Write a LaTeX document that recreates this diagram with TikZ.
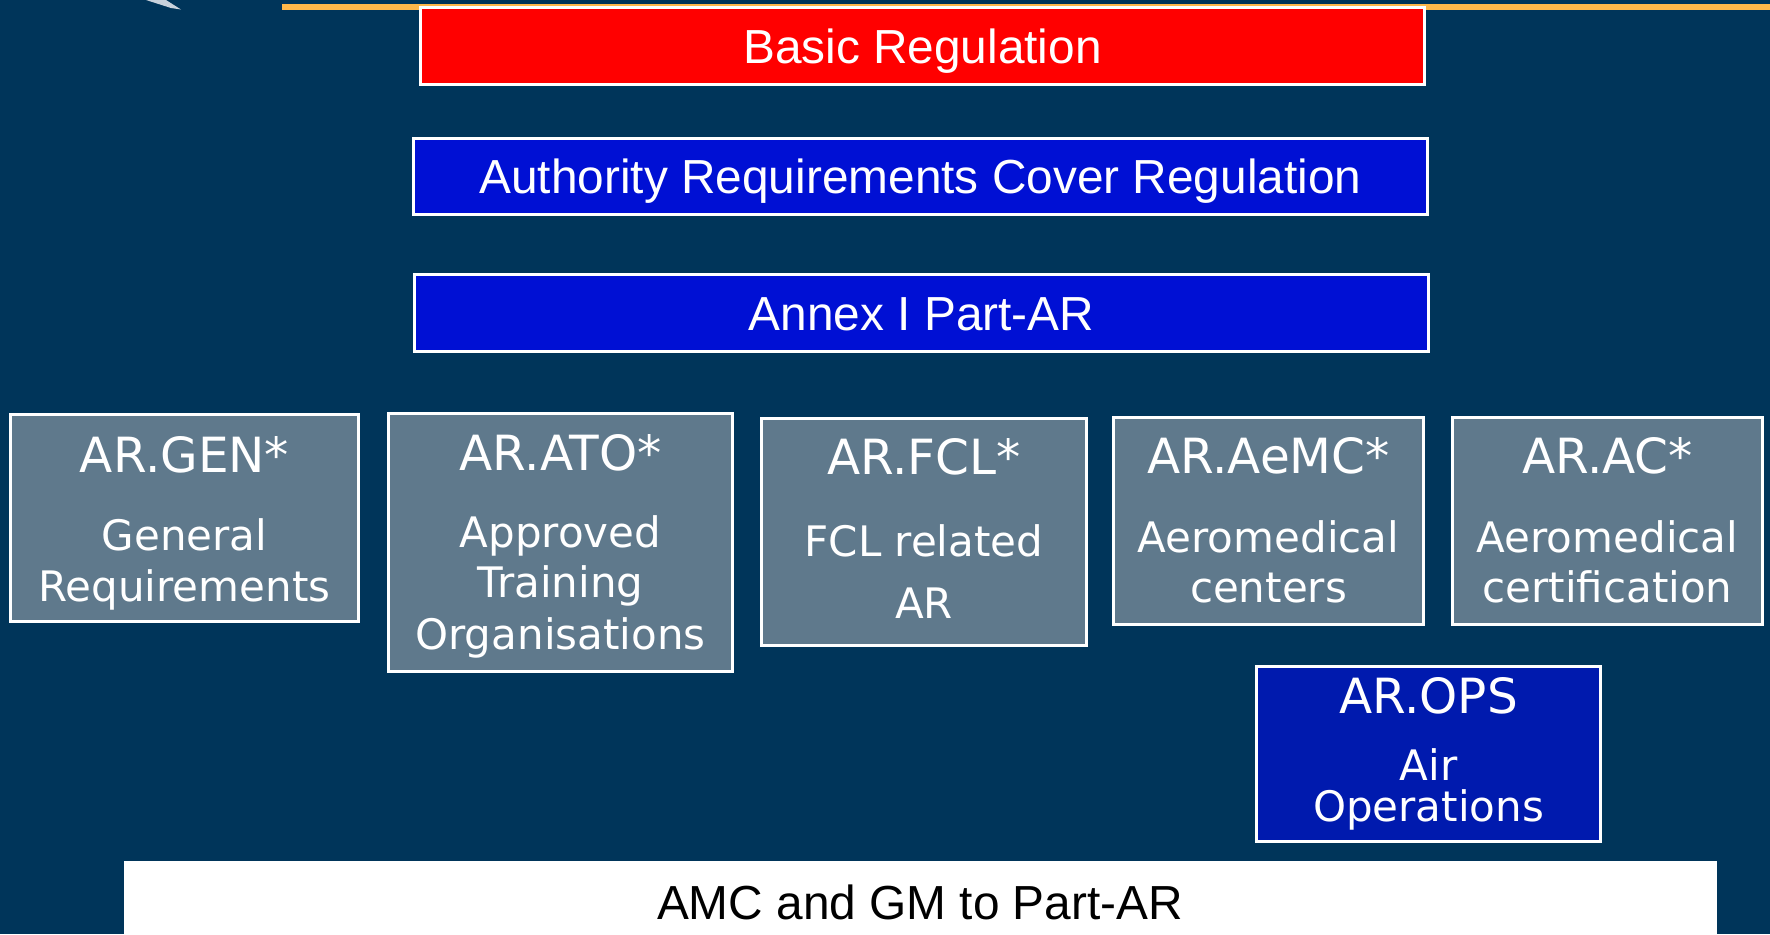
\documentclass[tikz,border=0pt]{standalone}
\usepackage{fontspec}
\setmainfont{Liberation Sans}
\newfontfamily\verd{DejaVu Sans}
\usetikzlibrary{fit}
\definecolor{bg}{HTML}{00355A}
\definecolor{ylw}{HTML}{FFB84A}
\definecolor{logo}{HTML}{C9D2DC}
\definecolor{redbox}{HTML}{FF0000}
\definecolor{bluebox}{HTML}{0010D4}
\definecolor{opsblue}{HTML}{001AAE}
\definecolor{greybox}{HTML}{5F798C}
\tikzset{
  box/.style={draw=white, line width=0.3mm, inner sep=0pt},
  greyb/.style={box, fill=greybox},
  big/.style={anchor=base, inner sep=0pt, font=\fontsize{13.6}{16}\selectfont},
  ttl/.style={anchor=base, inner sep=0pt, text=white, font=\verd\fontsize{13.8}{16}\selectfont},
  sub/.style={anchor=base, inner sep=0pt, text=white, font=\verd\fontsize{11.95}{14}\selectfont}
}
\begin{document}
\begin{tikzpicture}[x=0.1mm,y=-0.1mm]
\fill[bg] (0,0) rectangle (1770,934);
\useasboundingbox (0,0) rectangle (1770,934);
% decorations
\fill[ylw] (282,3.5) rectangle (1770,9.5);
\fill[logo] (146,0) -- (166,0) -- (181,9.5) -- (171,8) -- cycle;
% top boxes
\node[box, fill=redbox, fit={(420.5,7.5) (1424.5,84.5)}] (basic) {};
\node[big, text=white] (basict) at (922.5,63) {Basic Regulation};
\node[box, fill=bluebox, fit={(413.5,138.5) (1427.5,214.5)}] (auth) {};
\node[big, text=white] (autht) at (920.5,193) {Authority Requirements Cover Regulation};
\node[box, fill=bluebox, fit={(414.5,274.5) (1428.5,351.5)}] (annex) {};
\node[big, text=white] (annext) at (921.5,330) {Annex I Part-AR};
% grey boxes
\node[greyb, fit={(10.5,414.5) (358.5,621.5)}] (gen) {};
\node[ttl] (gent) at (184.5,472) {AR.GEN*};
\node[sub] (gen1) at (184.5,550) {General};
\node[sub] (gen2) at (184.5,601) {Requirements};
\node[greyb, fit={(388.5,413.5) (732.5,671.5)}] (ato) {};
\node[ttl] (atot) at (560.5,470) {AR.ATO*};
\node[sub] (ato1) at (560.5,547) {Approved};
\node[sub] (ato2) at (560.5,597) {Training};
\node[sub] (ato3) at (560.5,649) {Organisations};
\node[greyb, fit={(761.5,418.5) (1086.5,645.5)}] (fcl) {};
\node[ttl] (fclt) at (924,474) {AR.FCL*};
\node[sub] (fcl1) at (924,556) {FCL related};
\node[sub] (fcl2) at (924,618) {AR};
\node[greyb, fit={(1113.5,417.5) (1423.5,624.5)}] (aemc) {};
\node[ttl] (aemct) at (1268.5,473) {AR.AeMC*};
\node[sub] (aemc1) at (1268.5,552) {Aeromedical};
\node[sub] (aemc2) at (1268.5,602) {centers};
\node[greyb, fit={(1452.5,417.5) (1762.5,624.5)}] (ac) {};
\node[ttl] (act) at (1607.5,473) {AR.AC*};
\node[sub] (ac1) at (1607.5,552) {Aeromedical};
\node[sub] (ac2) at (1607.5,602) {certification};
% ops
\node[box, fill=opsblue, fit={(1256.5,666.5) (1600.5,841.5)}] (ops) {};
\node[ttl] (opst) at (1428.5,713) {AR.OPS};
\node[sub] (ops1) at (1428.5,780) {Air};
\node[sub] (ops2) at (1428.5,821) {Operations};
% bottom
\node[fill=white, inner sep=0pt, fit={(124,861) (1717,934)}] (amc) {};
\node[big, text=black] (amct) at (920,919) {AMC and GM to Part-AR};
\end{tikzpicture}
\end{document}
